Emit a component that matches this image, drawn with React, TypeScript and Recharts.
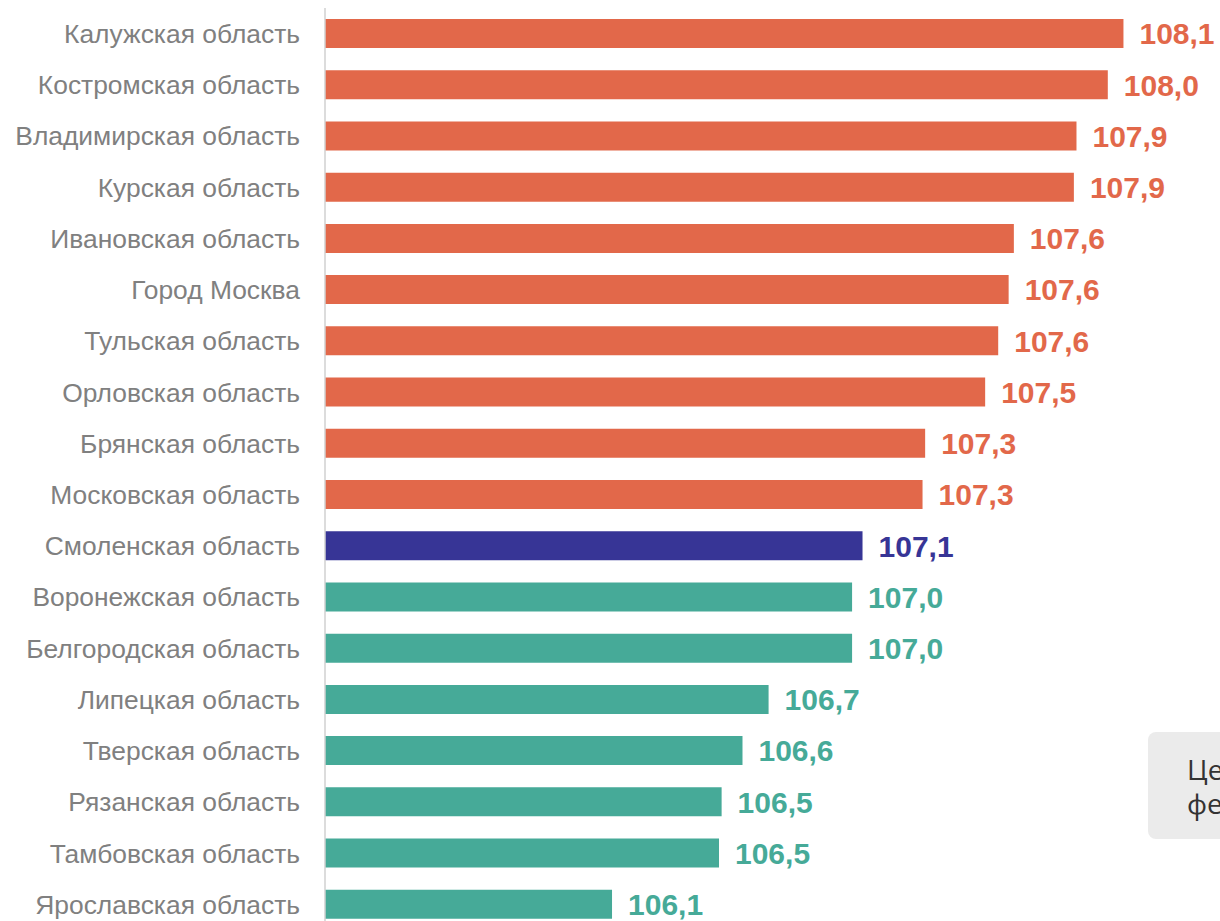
import React from 'react';
import { BarChart, Bar, XAxis, YAxis, Cell, LabelList } from 'recharts';

const regions = [
  'Калужская область',
  'Костромская область',
  'Владимирская область',
  'Курская область',
  'Ивановская область',
  'Город Москва',
  'Тульская область',
  'Орловская область',
  'Брянская область',
  'Московская область',
  'Смоленская область',
  'Воронежская область',
  'Белгородская область',
  'Липецкая область',
  'Тверская область',
  'Рязанская область',
  'Тамбовская область',
  'Ярославская область',
];

const values = [
  108.06, 108.0, 107.88, 107.87, 107.64, 107.62, 107.58, 107.53, 107.3,
  107.29, 107.06, 107.02, 107.02, 106.7, 106.6, 106.52, 106.51, 106.1,
];

const highlightRegion = 'Смоленская область';
const boxLines = ['Центральный', 'федеральный округ'];

const COLOR_ABOVE = '#E2684A';
const COLOR_HIGHLIGHT = '#373596';
const COLOR_BELOW = '#46AA98';

const data = regions.map((name, i) => ({ name, value: values[i] }));
const highlightValue = values[regions.indexOf(highlightRegion)];

const colorFor = (i: number) => {
  if (regions[i] === highlightRegion) return COLOR_HIGHLIGHT;
  return values[i] > highlightValue ? COLOR_ABOVE : COLOR_BELOW;
};

const fmt = (v: number) => v.toFixed(1).replace('.', ',');

const ValueLabel = (props: any) => {
  const { x, y, width, height, index, value } = props;
  return (
    <text
      x={x + width + 16}
      y={y + height / 2}
      dy="0.36em"
      fill={colorFor(index)}
      fontFamily="'Liberation Sans', Arial, sans-serif"
      fontWeight="bold"
      fontSize={30}
      textAnchor="start"
    >
      {fmt(value)}
    </text>
  );
};

export default function App() {
  return (
    <div
      style={{
        position: 'absolute',
        left: 0,
        top: 0,
        width: 1220,
        height: 921,
        overflow: 'hidden',
        background: '#ffffff',
      }}
    >
      <BarChart
        width={1220}
        height={930}
        data={data}
        layout="vertical"
        margin={{ top: 8, right: 0, bottom: 0, left: 0 }}
        barSize={29}
      >
        <XAxis type="number" domain={[105, 108.43]} allowDataOverflow hide />
        <YAxis
          type="category"
          dataKey="name"
          width={325}
          tickLine={false}
          tickSize={0}
          tickMargin={25}
          axisLine={{ stroke: '#d0d0d0', strokeWidth: 1.5 }}
          interval={0}
          tick={{
            fill: '#808080',
            fontSize: 26.4,
            fontFamily: "'Liberation Sans', Arial, sans-serif",
          }}
        />
        <Bar dataKey="value" isAnimationActive={false}>
          {data.map((_, i) => (
            <Cell key={i} fill={colorFor(i)} />
          ))}
          <LabelList dataKey="value" content={ValueLabel} />
        </Bar>
      </BarChart>
      <div
        style={{
          position: 'absolute',
          left: 1148,
          top: 732,
          width: 300,
          height: 107,
          background: '#ebebeb',
          borderRadius: 8,
          boxSizing: 'border-box',
          paddingLeft: 39,
          paddingTop: 20,
          fontFamily: "'Open Sans', 'DejaVu Sans', sans-serif",
          fontSize: 28,
          lineHeight: '34px',
          color: '#333333',
          whiteSpace: 'nowrap',
        }}
      >
        {boxLines.map((l) => (
          <div key={l}>{l}</div>
        ))}
      </div>
    </div>
  );
}
